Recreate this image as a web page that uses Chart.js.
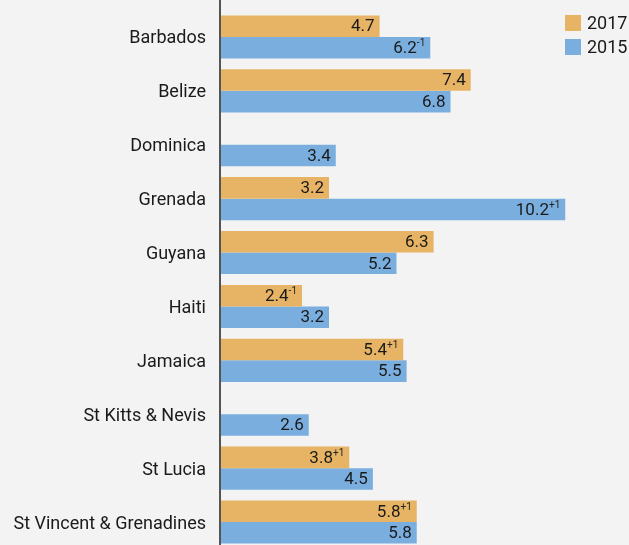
<!DOCTYPE html>
<html>
<head>
<meta charset="utf-8">
<script src="https://cdn.jsdelivr.net/npm/chart.js@4"></script>
<style>
  html, body { margin: 0; padding: 0; background: #f2f3f2; overflow: hidden; }
  canvas { display: block; }
</style>
</head>
<body>
<canvas id="chart" width="629" height="549"></canvas>
<script>
const countries = ['Barbados', 'Belize', 'Dominica', 'Grenada', 'Guyana', 'Haiti', 'Jamaica', 'St Kitts & Nevis', 'St Lucia', 'St Vincent & Grenadines'];
const values2017 = [4.7, 7.4, null, 3.2, 6.3, 2.4, 5.4, null, 3.8, 5.8];
const values2015 = [6.2, 6.8, 3.4, 10.2, 5.2, 3.2, 5.5, 2.6, 4.5, 5.8];
// year of reference notes shown as superscripts
const notes2017 = ['', '', '', '', '', '-1', '+1', '', '+1', '+1'];
const notes2015 = ['-1', '', '', '+1', '', '', '', '', '', ''];

const FONT = 'Roboto, sans-serif';
const ORANGE = '#e7b465';
const BLUE = '#7aaedf';

const labelPlugin = {
    id: 'barLabels',
    afterDatasetsDraw(chart) {
        const ctx = chart.ctx;
        const left = chart.chartArea.left;
        const yScale = chart.scales.y;
        ctx.save();
        // axis line spanning the full height
        ctx.strokeStyle = '#555';
        ctx.lineWidth = 2;
        ctx.beginPath();
        ctx.moveTo(left - 1, 0);
        ctx.lineTo(left - 1, chart.height);
        ctx.stroke();

        // category labels
        ctx.font = '18px ' + FONT;
        ctx.fillStyle = '#1a1a1a';
        ctx.textAlign = 'right';
        ctx.textBaseline = 'middle';
        chart.data.labels.forEach((lab, j) => {
            ctx.fillText(lab, left - 15, yScale.getPixelForValue(j) + 2);
        });

        chart.data.datasets.forEach((ds, i) => {
            const meta = chart.getDatasetMeta(i);
            meta.data.forEach((bar, j) => {
                const v = ds.data[j];
                if (v === null) return;
                const note = ds.notes[j];
                const txt = v.toFixed(1);
                ctx.textBaseline = 'middle';
                let x = bar.x - 5;
                if (note) {
                    ctx.font = '10px ' + FONT;
                    const w = ctx.measureText(note).width;
                    ctx.fillStyle = '#222';
                    ctx.textAlign = 'right';
                    ctx.fillText(note, x, bar.y - 4);
                    x -= w;
                }
                ctx.font = '17px ' + FONT;
                ctx.fillStyle = '#1a1a1a';
                ctx.textAlign = 'right';
                ctx.fillText(txt, x, bar.y + 1);
            });
        });
        // legend
        const items = [['2017', ORANGE], ['2015', BLUE]];
        items.forEach((it, k) => {
            const y = 15 + k * 24;
            ctx.fillStyle = it[1];
            ctx.fillRect(565, y, 16, 16);
            ctx.fillStyle = '#1a1a1a';
            ctx.font = '18px ' + FONT;
            ctx.textAlign = 'left';
            ctx.textBaseline = 'middle';
            ctx.fillText(it[0], 587, y + 9);
        });
        ctx.restore();
    }
};

new Chart(document.getElementById('chart').getContext('2d'), {
    type: 'bar',
    data: {
        labels: countries,
        datasets: [{
            label: '2017',
            data: values2017,
            notes: notes2017,
            backgroundColor: ORANGE,
            categoryPercentage: 0.8,
            barPercentage: 1.0
        }, {
            label: '2015',
            data: values2015,
            notes: notes2015,
            backgroundColor: BLUE,
            categoryPercentage: 0.8,
            barPercentage: 1.0
        }]
    },
    options: {
        indexAxis: 'y',
        responsive: false,
        animation: false,
        layout: { padding: { top: 10, right: 3, bottom: 0, left: 0 } },
        plugins: {
            legend: { display: false },
            tooltip: { enabled: false }
        },
        scales: {
            x: {
                display: false,
                min: 0,
                max: 12
            },
            y: {
                grid: { display: false },
                border: { display: false },
                afterFit(scale) { scale.width = 221; },
                ticks: { display: false }
            }
        }
    },
    plugins: [labelPlugin]
});
</script>
</body>
</html>
